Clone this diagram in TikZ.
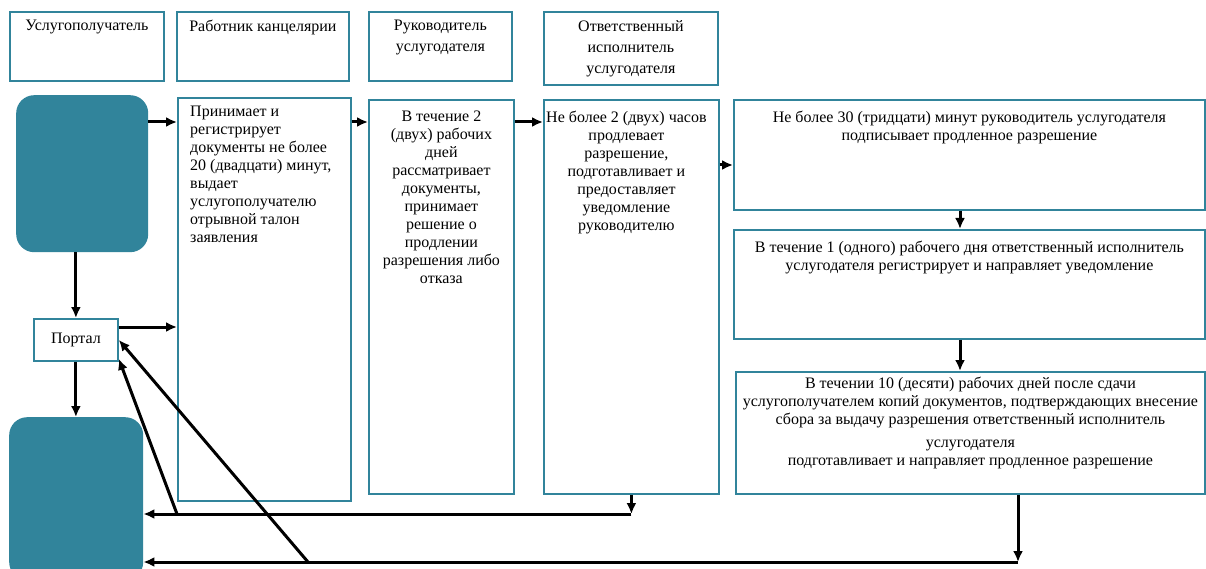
\documentclass[tikz,border=0pt]{standalone}
\usepackage{fontspec}
\setmainfont{Liberation Serif}
\usetikzlibrary{arrows.meta,positioning,calc}
\definecolor{tealbox}{HTML}{31849B}
\tikzset{
  every node/.append style={font=\fontsize{16}{18}\selectfont},
  lane/.style={draw=tealbox, line width=1.8pt, anchor=north west, inner sep=0pt},
  stepbox/.style={draw=tealbox, line width=1.8pt, anchor=north west, inner sep=0pt},
  terminal/.style={fill=tealbox, rounded corners=18pt, anchor=north west, inner sep=0pt},
  txt/.style={inner sep=0pt, align=center, anchor=north},
  arr/.style={line width=3pt, -{Latex[length=11pt,width=10pt]}},
}

\begin{document}
\begin{tikzpicture}[x=1pt,y=-1pt]
    \useasboundingbox (0,0) rectangle (1206,569);

    % lanes
    \node[lane, minimum width=154pt, minimum height=69pt] (h1) at (9,11) {};
    \node[txt, below=9pt of h1.north] (h1t) {Услугополучатель};
    \node[lane, minimum width=172pt, minimum height=69pt] (h2) at (176,11) {};
    \node[txt, below=9pt of h2.north] (h2t) {Работник канцелярии};
    \node[lane, minimum width=143pt, minimum height=69pt] (h3) at (368,11) {};
    \node[txt, below=9pt of h3.north, font=\fontsize{16}{21}\selectfont] (h3t) {Руководитель\\услугодателя};
    \node[lane, minimum width=174pt, minimum height=73pt] (h4) at (543,11) {};
    \node[txt, below=9pt of h4.north, font=\fontsize{16}{21}\selectfont] (h4t) {Ответственный\\исполнитель\\услугодателя};

    % terminals
    \node[terminal, minimum width=132pt, minimum height=157pt] (t1) at (16,95) {};
    \node[lane, minimum width=84pt, minimum height=42pt] (portal) at (33,318) {Портал};
    \node[terminal, minimum width=134pt, minimum height=163pt] (t2) at (9,417) {};

    % steps
    \node[stepbox, minimum width=173pt, minimum height=403pt] (b2) at (177,97) {};
    \node[txt, align=left, anchor=north west, below right=9pt and 13pt of b2.north west] (b2t)
        {Принимает и\\регистрирует\\документы не более\\20 (двадцати) минут,\\выдает\\услугополучателю\\отрывной талон\\заявления};
    \node[stepbox, minimum width=145pt, minimum height=394pt] (b3) at (368,99) {};
    \node[txt, below=12pt of b3.north] (b3t)
        {В течение 2\\(двух) рабочих\\дней\\рассматривает\\документы,\\принимает\\решение о\\продлении\\разрешения либо\\отказа};
    \node[stepbox, minimum width=175pt, minimum height=394pt] (b4) at (543,99) {};
    \node[txt, below=12pt of b4.north, xshift=-5pt] (b4t)
        {Не более 2 (двух) часов\\продлевает\\разрешение,\\подготавливает и\\предоставляет\\уведомление\\руководителю};
    \node[stepbox, minimum width=471pt, minimum height=110pt] (b5) at (733,99) {};
    \node[txt, below=12pt of b5.north] (b5t)
        {Не более 30 (тридцати) минут руководитель услугодателя\\подписывает продленное разрешение};
    \node[stepbox, minimum width=471pt, minimum height=109pt] (b6) at (733,229) {};
    \node[txt, below=12pt of b6.north] (b6t)
        {В течение 1 (одного) рабочего дня ответственный исполнитель\\услугодателя регистрирует и направляет уведомление};
    \node[stepbox, minimum width=469pt, minimum height=122pt] (b7) at (735,371) {};
    \node[txt, below=6pt of b7.north] (b7t)
        {В течении 10 (десяти) рабочих дней после сдачи\\услугополучателем копий документов, подтверждающих внесение\\сбора за выдачу разрешения ответственный исполнитель\\[5pt]услугодателя\\подготавливает и направляет продленное разрешение};

    \coordinate (row1) at (0,122);
    \coordinate (row2) at (0,165);
    \coordinate (row3) at (0,327);
    \coordinate (low1) at (0,514);
    \coordinate (low2) at (0,562);
    \coordinate (col1) at (960,0);
    \coordinate (col2) at (1018,0);
    \coordinate (col3) at (308,0);

    \draw[arr] (t1.east |- row1) -- (b2.west |- row1);
    \draw[arr] (b2.east |- row1) -- (b3.west |- row1);
    \draw[arr] (b3.east |- row1) -- (b4.west |- row1);
    \draw[arr] (b4.east |- row2) -- (b5.west |- row2);
    \draw[arr] (b5.south -| col1) -- (b6.north -| col1);
    \draw[arr] (b6.south -| col1) -- (b7.north -| col1);
    \draw[arr] (t1.south -| portal.north) -- (portal.north);
    \draw[arr] (portal.east |- row3) -- (b2.west |- row3);
    \draw[arr] (portal.south) -- (portal.south |- t2.north);
    \draw[arr] (b4.south) -- (b4.south |- low1);
    \draw[arr] (b4.south |- low1) -- (t2.east |- low1);
    \draw[arr] (b7.south -| col2) -- (col2 |- low2);
    \draw[arr] (col2 |- low2) -- (t2.east |- low2);
    \draw[arr] (b2.west |- low1) -- ([yshift=3pt]portal.south east);
    \draw[arr] (col3 |- low2) -- (portal.east);
\end{tikzpicture}
\end{document}
